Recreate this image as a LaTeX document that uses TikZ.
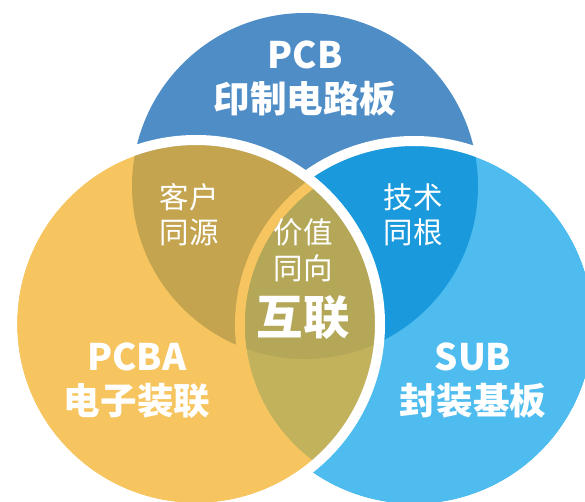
\documentclass[tikz,border=0pt]{standalone}
\usepackage{fontspec}
\setmainfont{Noto Sans CJK SC}
\usepackage{xcolor}
\definecolor{pcbblue}{HTML}{4E8DC6}
\definecolor{subblue}{HTML}{4EBCEE}
\definecolor{techblue}{HTML}{1A9ADC}
\definecolor{pcbayellow}{HTML}{F7C560}
\definecolor{clientbrown}{HTML}{C4A44F}
\definecolor{valueolive}{HTML}{B4A757}
\definecolor{lowolive}{HTML}{C2B25C}
\tikzset{
  setname/.style={text=white, font=\bfseries\fontsize{52}{60}\selectfont},
  linkname/.style={text=white, font=\fontsize{42}{50}\selectfont},
  ring/.style={draw=white, line width=5mm},
}

\begin{document}
\begin{tikzpicture}[x=0.05cm,y=-0.05cm]
  \useasboundingbox (0,0) rectangle (585,502);

  % Top set (PCB)
  \fill[pcbblue] (305,186) circle (173);

  % Right set (SUB) and its overlap with PCB
  \fill[subblue] (414,325) circle (179);
  \begin{scope}
    \clip (414,325) circle (179);
    \fill[techblue] (305,186) circle (173);
  \end{scope}
  \draw[ring] (414,325) circle (184);

  % Left set (PCBA) and its overlaps
  \fill[pcbayellow] (196,324) circle (179);
  \begin{scope}
    \clip (196,324) circle (179);
    \fill[clientbrown] (305,186) circle (173);
    \draw[pcbayellow, line width=5mm] (414,325) circle (174);
    \clip (414,325) circle (169);
    \fill[lowolive] (414,325) circle (169);
    \fill[valueolive] (305,186) circle (173);
  \end{scope}
  \draw[ring] (196,324) circle (184);

  % Names of the three sets
  \node[setname] (pcbcode) at (305,55) {PCB};
  \node[setname] (pcbname) at (305,99) {印制电路板};
  \node[setname] (pcbacode) at (137,357) {PCBA};
  \node[setname] (pcbaname) at (137,401) {电子装联};
  \node[setname] (subcode) at (473,357) {SUB};
  \node[setname] (subname) at (473,401) {封装基板};

  % Texts in the overlaps
  \node[linkname] (client1) at (189,197) {客户};
  \node[linkname] (client2) at (189,232) {同源};
  \node[linkname] (tech1) at (413,197) {技术};
  \node[linkname] (tech2) at (413,232) {同根};
  \node[linkname] (value1) at (303,232) {价值};
  \node[linkname] (value2) at (303,268) {同向};
  \node[text=white, font=\bfseries\fontsize{66}{74}\selectfont] (link) at (303,318) {互联};

\end{tikzpicture}
\end{document}
